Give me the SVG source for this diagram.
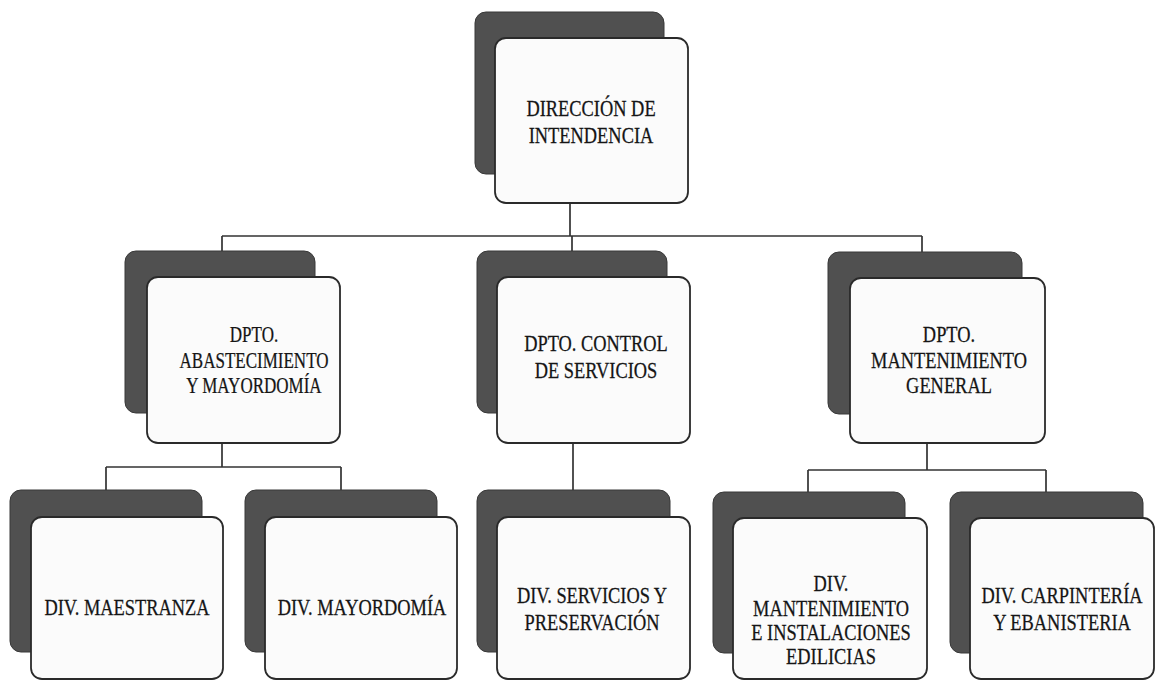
<svg xmlns="http://www.w3.org/2000/svg" width="1157" height="680" viewBox="0 0 1157 680">
<defs>
<style>
.bg{fill:#ffffff}
.sh{fill:#505050;stroke:#383838;stroke-width:1}
.fr{fill:#fbfbfb;stroke:#2a2a2a;stroke-width:1.8}
.ln{fill:none;stroke:#333333;stroke-width:1.7}
.tx{font-family:"Liberation Serif","Times New Roman",serif;font-size:23px;fill:#151515;stroke:#151515;stroke-width:0.25;text-anchor:middle}
</style>
</defs>
<rect class="bg" x="0" y="0" width="1157" height="680"/>
<g id="connectors">
<path class="ln" d="M570,203 V236 M222,236 H922 M222,236 V252 M572,236 V252 M922,236 V252"/>
<path class="ln" d="M222,443 V467 M106,467 H341 M106,467 V490 M341,467 V490"/>
<path class="ln" d="M573,443 V490"/>
<path class="ln" d="M927,443 V470 M808,470 H1046 M808,470 V492 M1046,470 V492"/>
</g>
<g id="n-direccion">
<rect class="sh" x="475" y="12" width="189" height="162" rx="11"/>
<rect class="fr" x="495" y="38" width="193" height="165" rx="11"/>
<text class="tx" transform="translate(591,0) scale(0.8,1)"><tspan x="0" y="116">DIRECCIÓN DE</tspan><tspan x="0" y="143">INTENDENCIA</tspan></text>
</g>
<g id="n-abastecimiento">
<rect class="sh" x="125" y="251" width="190" height="162" rx="11"/>
<rect class="fr" x="147" y="277" width="193" height="166" rx="11"/>
<text class="tx" transform="translate(254,0) scale(0.74,1)"><tspan x="0" y="342">DPTO.</tspan><tspan x="0" y="368">ABASTECIMIENTO</tspan><tspan x="0" y="393">Y MAYORDOMÍA</tspan></text>
</g>
<g id="n-control">
<rect class="sh" x="477" y="251" width="190" height="162" rx="11"/>
<rect class="fr" x="497" y="277" width="193" height="166" rx="11"/>
<text class="tx" transform="translate(596,0) scale(0.8,1)"><tspan x="0" y="351">DPTO. CONTROL</tspan><tspan x="0" y="378">DE SERVICIOS</tspan></text>
</g>
<g id="n-mantenimiento-general">
<rect class="sh" x="828" y="252" width="194" height="162" rx="11"/>
<rect class="fr" x="850" y="278" width="195" height="165" rx="11"/>
<text class="tx" transform="translate(949,0) scale(0.8,1)"><tspan x="0" y="342">DPTO.</tspan><tspan x="0" y="368">MANTENIMIENTO</tspan><tspan x="0" y="393">GENERAL</tspan></text>
</g>
<g id="n-maestranza">
<rect class="sh" x="10" y="490" width="192" height="162" rx="11"/>
<rect class="fr" x="31" y="517" width="192" height="162" rx="11"/>
<text class="tx" transform="translate(127,0) scale(0.8,1)"><tspan x="0" y="615">DIV. MAESTRANZA</tspan></text>
</g>
<g id="n-mayordomia">
<rect class="sh" x="245" y="490" width="192" height="162" rx="11"/>
<rect class="fr" x="265" y="517" width="192" height="162" rx="11"/>
<text class="tx" transform="translate(362,0) scale(0.8,1)"><tspan x="0" y="615">DIV. MAYORDOMÍA</tspan></text>
</g>
<g id="n-servicios">
<rect class="sh" x="477" y="490" width="193" height="162" rx="11"/>
<rect class="fr" x="497" y="517" width="193" height="162" rx="11"/>
<text class="tx" transform="translate(592,0) scale(0.8,1)"><tspan x="0" y="603">DIV. SERVICIOS Y</tspan><tspan x="0" y="630">PRESERVACIÓN</tspan></text>
</g>
<g id="n-instalaciones">
<rect class="sh" x="713" y="492" width="192" height="161" rx="11"/>
<rect class="fr" x="733" y="518" width="194" height="161" rx="11"/>
<text class="tx" transform="translate(831,0) scale(0.8,1)"><tspan x="0" y="591">DIV.</tspan><tspan x="0" y="616">MANTENIMIENTO</tspan><tspan x="0" y="640">E INSTALACIONES</tspan><tspan x="0" y="664">EDILICIAS</tspan></text>
</g>
<g id="n-carpinteria">
<rect class="sh" x="950" y="492" width="193" height="161" rx="11"/>
<rect class="fr" x="970" y="518" width="184" height="161" rx="11"/>
<text class="tx" transform="translate(1062,0) scale(0.8,1)"><tspan x="0" y="603">DIV. CARPINTERÍA</tspan><tspan x="0" y="630">Y EBANISTERIA</tspan></text>
</g>
</svg>
